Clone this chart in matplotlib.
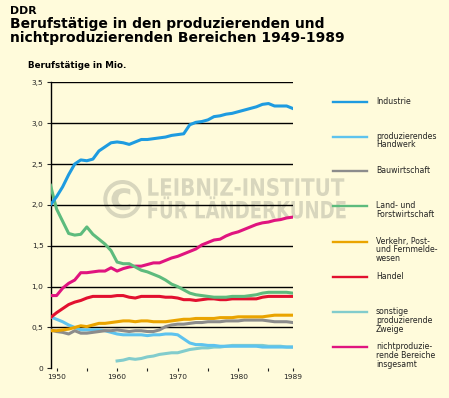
import matplotlib
matplotlib.use('Agg')
import matplotlib.pyplot as plt
from matplotlib.lines import Line2D
from matplotlib.textpath import TextPath
from matplotlib.patches import PathPatch
from matplotlib.font_manager import FontProperties
from matplotlib.transforms import Affine2D

plt.rcParams['font.family'] = ['DejaVu Sans']

# Jahre
years = list(range(1949, 1990))
years_sonst = list(range(1960, 1990))

# Berufstätige in Mio.
industrie = [2.00, 2.10, 2.22, 2.37, 2.50, 2.55, 2.54, 2.56, 2.66, 2.71,
             2.76, 2.77, 2.76, 2.74, 2.77, 2.80, 2.80, 2.81, 2.82, 2.83,
             2.85, 2.86, 2.87, 2.98, 3.01, 3.02, 3.04, 3.08, 3.09, 3.11,
             3.12, 3.14, 3.16, 3.18, 3.20, 3.23, 3.24, 3.21, 3.21, 3.21, 3.18]
handwerk = [0.63, 0.60, 0.57, 0.53, 0.50, 0.47, 0.47, 0.47, 0.47, 0.46,
            0.44, 0.42, 0.41, 0.41, 0.41, 0.41, 0.40, 0.41, 0.41, 0.42,
            0.42, 0.41, 0.36, 0.31, 0.29, 0.29, 0.28, 0.28, 0.27, 0.27,
            0.27, 0.27, 0.27, 0.27, 0.27, 0.26, 0.26, 0.26, 0.26, 0.26, 0.26]
bau = [0.47, 0.45, 0.44, 0.42, 0.46, 0.43, 0.43, 0.44, 0.45, 0.46,
       0.46, 0.47, 0.46, 0.45, 0.46, 0.46, 0.45, 0.45, 0.47, 0.51,
       0.53, 0.54, 0.54, 0.55, 0.56, 0.56, 0.57, 0.57, 0.57, 0.58,
       0.58, 0.58, 0.59, 0.59, 0.59, 0.59, 0.58, 0.57, 0.57, 0.57, 0.56]
land = [2.24, 1.95, 1.80, 1.65, 1.63, 1.64, 1.73, 1.64, 1.58, 1.52,
        1.44, 1.30, 1.28, 1.28, 1.24, 1.20, 1.18, 1.15, 1.12, 1.08,
        1.03, 1.00, 0.96, 0.92, 0.90, 0.89, 0.88, 0.87, 0.87, 0.87,
        0.88, 0.88, 0.88, 0.89, 0.90, 0.92, 0.93, 0.93, 0.93, 0.93, 0.92]
verkehr = [0.46, 0.46, 0.47, 0.48, 0.50, 0.52, 0.51, 0.53, 0.55, 0.55,
           0.56, 0.57, 0.58, 0.58, 0.57, 0.58, 0.58, 0.57, 0.57, 0.57,
           0.58, 0.59, 0.60, 0.60, 0.61, 0.61, 0.61, 0.61, 0.62, 0.62,
           0.62, 0.63, 0.63, 0.63, 0.63, 0.63, 0.64, 0.65, 0.65, 0.65, 0.65]
handel = [0.62, 0.68, 0.73, 0.78, 0.81, 0.83, 0.86, 0.88, 0.88, 0.88,
          0.88, 0.89, 0.89, 0.87, 0.86, 0.88, 0.88, 0.88, 0.88, 0.87,
          0.87, 0.86, 0.84, 0.84, 0.83, 0.84, 0.85, 0.85, 0.84, 0.84,
          0.85, 0.85, 0.85, 0.85, 0.85, 0.87, 0.88, 0.88, 0.88, 0.88, 0.88]
sonstige = [0.09, 0.10, 0.12, 0.11, 0.12, 0.14, 0.15, 0.17, 0.18, 0.19,
            0.19, 0.21, 0.23, 0.24, 0.25, 0.25, 0.26, 0.26, 0.27, 0.28,
            0.28, 0.28, 0.28, 0.28, 0.28, 0.27, 0.27, 0.27, 0.26, 0.26]
nichtprod = [0.89, 0.89, 0.98, 1.04, 1.08, 1.17, 1.17, 1.18, 1.19, 1.19,
             1.23, 1.19, 1.22, 1.24, 1.25, 1.25, 1.27, 1.29, 1.29, 1.32,
             1.35, 1.37, 1.40, 1.43, 1.46, 1.51, 1.54, 1.57, 1.58, 1.62,
             1.65, 1.67, 1.70, 1.73, 1.76, 1.78, 1.79, 1.81, 1.82, 1.84, 1.85]

labels = ['Industrie', 'produzierendes\nHandwerk', 'Bauwirtschaft',
          'Land- und\nForstwirtschaft', 'Verkehr, Post-\nund Fernmelde-\nwesen',
          'Handel', 'sonstige\nproduzierende\nZweige',
          'nichtproduzie-\nrende Bereiche\ninsgesamt']
colors = ['#1e9be0', '#5ec3ee', '#8c8c8c', '#5dbb7d', '#eaa400', '#e2102f',
          '#82cccc', '#e0147f']

W, H = 449, 398
bg = '#fffbdb'
fig = plt.figure(figsize=(W / 100, H / 100), dpi=100, facecolor=bg)
ax = fig.add_axes([50.5 / W, 1 - 368.3 / H, 242.2 / W, 286 / H])
ax.set_facecolor(bg)

# Pixel (von oben links) -> Figur
px = Affine2D().scale(1, -1).translate(0, H).scale(1 / W, 1 / H) + fig.transFigure


def watermark(text, x0, top, bottom, width, ref='L'):
    fp = FontProperties(family='DejaVu Sans', weight='bold')
    tp = TextPath((0, 0), text, size=1, prop=fp)
    ext = tp.get_extents()
    capx = TextPath((0, 0), ref, size=1, prop=fp).get_extents()
    sx = width / ext.width
    sy = (bottom - top) / (capx.y1 - capx.y0)
    tr = Affine2D().translate(-ext.x0, -capx.y0).scale(sx, -sy).translate(x0, bottom) + px
    ax.add_patch(PathPatch(tp, transform=tr, facecolor='#d8d6bd', edgecolor='none',
                           zorder=2, clip_on=False))


watermark('©', 103.3, 180, 218.3, 38.4, ref='©')
watermark('LEIBNIZ-INSTITUT', 148.3, 178.3, 195.7, 196)
watermark('FÜR LÄNDERKUNDE', 148.3, 201, 218.3, 197.4, ref='F')

for yv in [0.5, 1.0, 1.5, 2.0, 2.5, 3.0, 3.5]:
    ax.axhline(yv, color='black', lw=1.0, zorder=2.5)

draw_order = [6, 1, 2, 4, 5, 7, 3, 0]
series = [(years, industrie), (years, handwerk), (years, bau), (years, land),
          (years, verkehr), (years, handel), (years_sonst, sonstige), (years, nichtprod)]
for i in draw_order:
    x, y = series[i]
    ax.plot(x, y, color=colors[i], lw=2.2, solid_joinstyle='round', zorder=3)

ax.set_xlim(1949, 1989)
ax.set_ylim(0, 3.5)
for s in ['top', 'right', 'bottom']:
    ax.spines[s].set_visible(False)
ax.spines['left'].set_linewidth(1.0)
ax.set_yticks([0, 0.5, 1.0, 1.5, 2.0, 2.5, 3.0, 3.5])
ax.set_yticklabels(['0', '0,5', '1,0', '1,5', '2,0', '2,5', '3,0', '3,5'])
xt = [1950, 1955, 1960, 1965, 1970, 1975, 1980, 1985, 1989]
ax.set_xticks(xt)
ax.set_xticklabels([str(v) if v in (1950, 1960, 1970, 1980, 1989) else '' for v in xt])
ax.tick_params(axis='y', length=3, width=0.8, pad=2, labelsize=5.4, colors='#222222')
ax.tick_params(axis='x', length=2.5, width=0.8, pad=1.5, labelsize=5.4, colors='#222222')

# Titel
fig.text(10 / W, 1 - 11 / H, 'DDR', fontsize=7.8, fontweight='bold', va='center')
fig.text(10 / W, 1 - 24 / H, 'Berufstätige in den produzierenden und',
         fontsize=10, fontweight='bold', va='center')
fig.text(10 / W, 1 - 38 / H, 'nichtproduzierenden Bereichen 1949-1989',
         fontsize=10, fontweight='bold', va='center')
fig.text(28 / W, 1 - 66 / H, 'Berufstätige in Mio.', fontsize=6.3,
         fontweight='bold', va='center')

# Legende
leg_y = [102, 136.7, 171, 206, 241.7, 276.7, 312.3, 347.3]
for lab, col, ly in zip(labels, colors, leg_y):
    yf = 1 - ly / H
    fig.add_artist(Line2D([333 / W, 367 / W], [yf, yf], color=col, lw=1.7))
    fig.text(376 / W, 1 - (ly - 5) / H, lab, fontsize=5.6, va='top',
             linespacing=0.95, color='#222222')

plt.savefig('out.png', dpi=100, facecolor=bg)
